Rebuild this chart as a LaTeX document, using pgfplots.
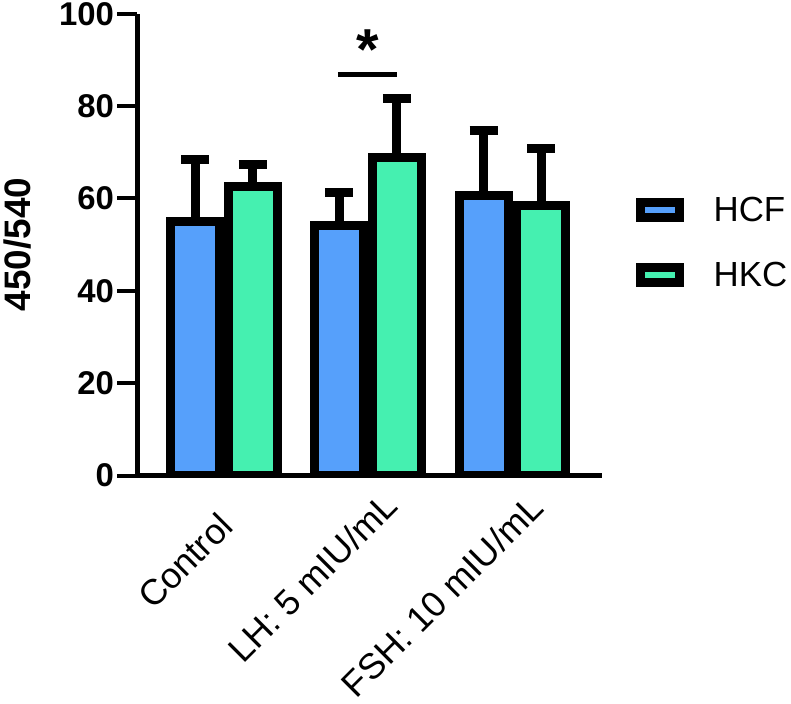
\documentclass[border=0pt]{standalone}
\usepackage{fontspec}
\setmainfont{Liberation Sans}
\usepackage{pgfplots}
\pgfplotsset{compat=1.18}
\definecolor{hcf}{RGB}{86,160,251}
\definecolor{hkc}{RGB}{69,240,176}

\begin{document}
\begin{tikzpicture}
\path[use as bounding box] (-137.5bp,-228.5bp) rectangle (653.5bp,475.5bp);
\begin{axis}[
    at={(0,0)}, anchor=south west,
    scale only axis,
    width=464.5bp, height=461.8bp,
    xmin=-0.599, xmax=2.622,
    ymin=0, ymax=100,
    ybar=8.6bp, bar width=49bp,
    axis lines*=left,
    axis line style={line width=4.5bp, black},
    xtick={0,1,2.028},
    xticklabels={Control, {LH: 5 mIU/mL\kern-29bp}, {FSH: 10 mIU/mL\kern-26bp}},
    x tick style={draw=none},
    ytick={0,20,...,100},
    tick align=outside,
    major tick length=20bp,
    y tick style={line width=4bp, black},
    /pgf/number format/assume math mode=true,
    yticklabel style={font=\fontsize{33}{33}\selectfont\bfseries},
    xticklabel style={font=\fontsize{36}{36}\selectfont,
        xshift=-7.5bp, yshift=-10bp,
        rotate=45, anchor=north east},
    ylabel={450/540},
    every axis y label/.style={at={(axis description cs:-0.258,0.5)}, rotate=90, anchor=center,
        font=\fontsize{37}{37}\selectfont\bfseries},
    legend image code/.code={\draw[#1, line width=9bp] (0bp,-7.5bp) rectangle (39bp,7.5bp);},
    legend style={at={(axis description cs:1.072,0.607)}, anchor=north west,
        draw=none, fill=none, inner sep=0pt, row sep=35bp, column sep=28bp,
        font=\fontsize{35}{35}\selectfont},
    legend cell align=left,
]
\addplot[fill=hcf, draw=black, line width=9bp,
    error bars/.cd, y dir=plus, y explicit, error mark=|,
    error bar style={line width=9bp, black},
    error mark options={line width=9bp, black, mark size=14bp}]
    coordinates {(0,55.1) +- (0,13.3) (1,54.2) +- (0,7.0) (2,60.7) +- (0,14.1)};
\addlegendentry{HCF}
\addplot[fill=hkc, draw=black, line width=9bp,
    error bars/.cd, y dir=plus, y explicit, error mark=|,
    error bar style={line width=9bp, black},
    error mark options={line width=9bp, black, mark size=14bp}]
    coordinates {(0,62.5) +- (0,4.9) (1,68.8) +- (0,12.9) (2,58.4) +- (0,12.5)};
\addlegendentry{HKC}
\draw[line width=5bp] (axis cs:0.791,86.8) -- (axis cs:1.200,86.8);
\node[anchor=base, inner sep=0pt, font=\fontsize{58}{58}\selectfont\bfseries] at (axis cs:0.996,87.9) {*};
\end{axis}
\end{tikzpicture}
\end{document}
